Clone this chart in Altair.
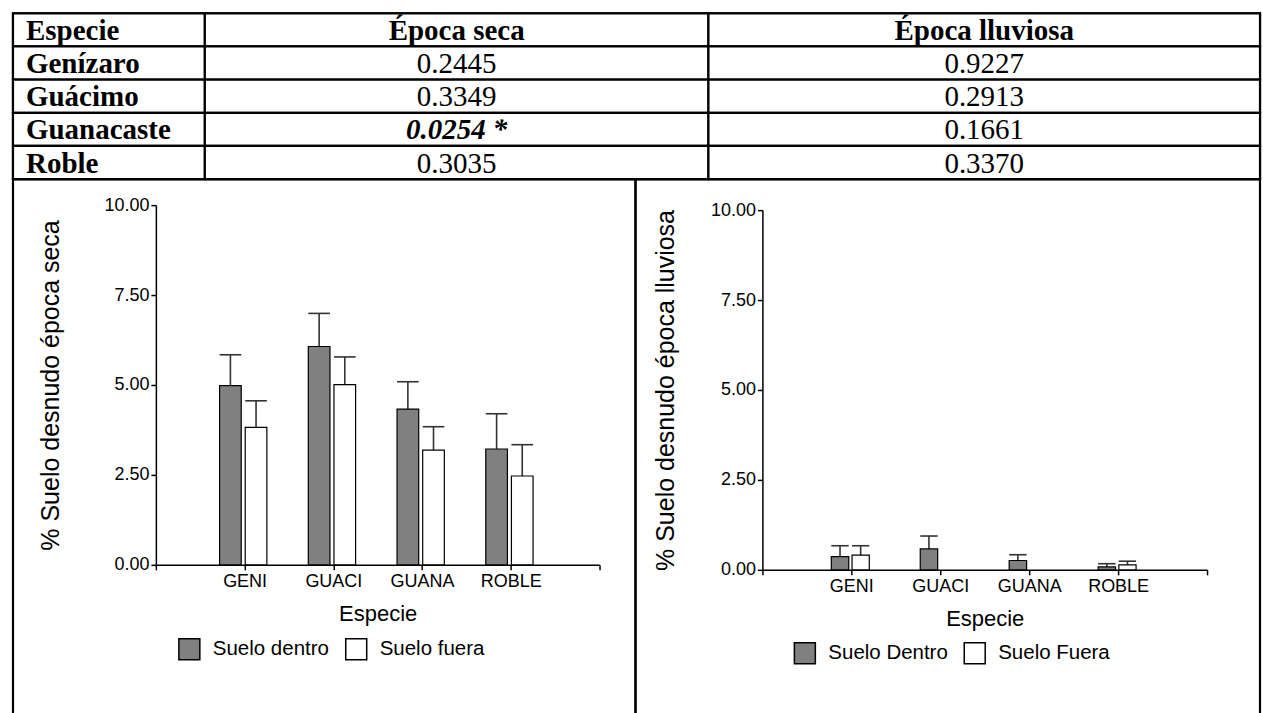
import altair as alt
import pandas as pd

# ---- table: p-values by species and season ----
HEADERS = ["Especie", "Época seca", "Época lluviosa"]
TABLE_SPECIES = ["Genízaro", "Guácimo", "Guanacaste", "Roble"]
P_SECA = ["0.2445", "0.3349", "0.0254 *", "0.3035"]
P_LLUVIOSA = ["0.9227", "0.2913", "0.1661", "0.3370"]
SIGNIFICANT = [False, False, True, False]

# ---- bar charts: mean bare soil (%) with standard error ----
SPECIES = ["GENI", "GUACI", "GUANA", "ROBLE"]
SECA_DENTRO = [4.98, 6.07, 4.33, 3.22]
SECA_DENTRO_EE = [0.86, 0.92, 0.76, 0.98]
SECA_FUERA = [3.82, 5.01, 3.19, 2.47]
SECA_FUERA_EE = [0.74, 0.77, 0.65, 0.87]
LLUV_DENTRO = [0.37, 0.58, 0.26, 0.08]
LLUV_DENTRO_EE = [0.30, 0.36, 0.16, 0.09]
LLUV_FUERA = [0.41, 0.0, 0.0, 0.14]
LLUV_FUERA_EE = [0.26, 0.0, 0.0, 0.10]

SANS = "Liberation Sans"
SERIF = "Liberation Serif"
LINE = 2.2

# ---------------- table ----------------
COL_W = [192, 504, 552]
TABLE_W = sum(COL_W)
TABLE_H = 166
N_ROWS = 1 + len(TABLE_SPECIES)
edges = [0]
for w in COL_W:
    edges.append(edges[-1] + w)

cells = pd.DataFrame(
    [{"x0": edges[c], "x1": edges[c + 1], "r0": r, "r1": r + 1}
     for r in range(N_ROWS) for c in range(3)]
)

rows = [HEADERS] + [[s, a, b] for s, a, b in zip(TABLE_SPECIES, P_SECA, P_LLUVIOSA)]
sig_flags = [False] + SIGNIFICANT
txt = []
for r, row in enumerate(rows):
    for c, t in enumerate(row):
        if c == 0:
            kind = "bold_left"
        elif r == 0:
            kind = "bold"
        elif c == 1 and sig_flags[r]:
            kind = "bolditalic"
        else:
            kind = "plain"
        xpos = edges[0] + 13 if c == 0 else (edges[c] + edges[c + 1]) / 2
        txt.append({"x": xpos, "r": r + 0.5, "t": t, "kind": kind})
txt = pd.DataFrame(txt)

tx = alt.Scale(domain=[0, TABLE_W], nice=False, zero=False)
ty = alt.Scale(domain=[0, N_ROWS], reverse=True, nice=False, zero=False)

grid = alt.Chart(cells).mark_rect(fill="white", stroke="black", strokeWidth=LINE).encode(
    x=alt.X("x0:Q", scale=tx, axis=None), x2="x1:Q",
    y=alt.Y("r0:Q", scale=ty, axis=None), y2="r1:Q",
)


def table_text(kind, align, weight, style):
    return alt.Chart(txt).transform_filter(alt.datum.kind == kind).mark_text(
        font=SERIF, fontSize=29, align=align, baseline="middle", dy=1,
        fontWeight=weight, fontStyle=style, color="black",
    ).encode(
        x=alt.X("x:Q", scale=tx, axis=None),
        y=alt.Y("r:Q", scale=ty, axis=None),
        text="t:N",
    )


table = alt.layer(
    grid,
    table_text("bold_left", "left", "bold", "normal"),
    table_text("bold", "center", "bold", "normal"),
    table_text("plain", "center", "normal", "normal"),
    table_text("bolditalic", "center", "bold", "italic"),
).properties(width=TABLE_W, height=TABLE_H)


# ---------------- bar panels ----------------
def panel(dentro, dentro_ee, fuera, fuera_ee, names, ytitle, geo):
    recs = []
    for i, sp in enumerate(SPECIES):
        c = i + 1
        for name, vals, ees, off in (
            (names[0], dentro, dentro_ee, geo["off_dentro"]),
            (names[1], fuera, fuera_ee, geo["off_fuera"]),
        ):
            x0, x1 = c + off[0], c + off[1]
            recs.append({
                "especie": sp, "grupo": name, "valor": vals[i], "ee": ees[i],
                "x0": x0, "x1": x1, "xc": (x0 + x1) / 2, "tope": vals[i] + ees[i],
            })
    df = pd.DataFrame(recs)

    label_expr = "datum.value >= 1 && datum.value <= %d ? %s[datum.value - 1] : ''" % (
        len(SPECIES), str(SPECIES))
    xs = alt.Scale(domain=[0, len(SPECIES) + 1], range=geo["xrange"], nice=False, zero=False)
    ys = alt.Scale(domain=[0, 10], range=geo["yrange"], nice=False, zero=False)
    xaxis = alt.Axis(
        values=list(range(len(SPECIES) + 2)), labelExpr=label_expr, title="Especie",
        orient="bottom", offset=geo["xoff"], grid=False, tickSize=5, labelPadding=3,
        labelFontSize=18, titleFontSize=22, titleY=49, titleBaseline="middle",
        domainColor="black", tickColor="black", domainWidth=1.5, tickWidth=1.5,
        labelFlush=False, labelOverlap=False,
    )
    yaxis = alt.Axis(
        values=[0, 2.5, 5, 7.5, 10], format=".2f", title=ytitle, orient="left",
        offset=geo["yoff"], grid=False, tickSize=5, labelPadding=2,
        labelFontSize=18, titleFontSize=25, titleX=geo["titlex"], titleBaseline="middle",
        domainColor="black", tickColor="black", domainWidth=1.5, tickWidth=1.5,
    )
    color = alt.Color(
        "grupo:N",
        scale=alt.Scale(domain=names, range=["#808080", "#ffffff"]),
        legend=alt.Legend(
            orient="none", legendX=geo["legx"], legendY=geo["legy"], direction="horizontal",
            title=None, symbolType="square", symbolSize=440, symbolStrokeColor="black",
            symbolStrokeWidth=1.5, symbolOpacity=1, labelFontSize=20.5, labelFont=SANS,
            labelColor="black", labelOffset=12, columnPadding=13, padding=0,
        ),
    )

    base = alt.Chart(df)
    bars = base.transform_filter(alt.datum.valor > 0).mark_bar(
        stroke="black", strokeWidth=1.2, opacity=1
    ).encode(
        x=alt.X("x0:Q", scale=xs, axis=xaxis), x2="x1:Q",
        y=alt.Y("valor:Q", scale=ys, axis=yaxis), y2=alt.datum(0),
        color=color,
    )
    whisker = base.transform_filter(alt.datum.ee > 0).mark_rule(
        color="#333333", strokeWidth=1.6
    ).encode(x=alt.X("xc:Q", scale=xs), y=alt.Y("valor:Q", scale=ys), y2="tope:Q")
    cap = base.transform_filter(alt.datum.ee > 0).mark_rule(
        color="#333333", strokeWidth=1.6
    ).encode(x=alt.X("x0:Q", scale=xs), x2="x1:Q", y=alt.Y("tope:Q", scale=ys))

    return alt.layer(whisker, bars, cap).properties(width=geo["w"], height=geo["h"])


PANEL_H = 545
left = panel(
    SECA_DENTRO, SECA_DENTRO_EE, SECA_FUERA, SECA_FUERA_EE,
    ["Suelo dentro", "Suelo fuera"], "% Suelo desnudo época seca",
    {"w": 623, "h": PANEL_H, "xrange": [143, 587], "yrange": [386, 26],
     "xoff": 386 - PANEL_H, "yoff": -143, "titlex": -105,
     "off_dentro": (-0.282, -0.038), "off_fuera": (0.007, 0.251),
     "legx": 165, "legy": 459},
)
right = panel(
    LLUV_DENTRO, LLUV_DENTRO_EE, LLUV_FUERA, LLUV_FUERA_EE,
    ["Suelo Dentro", "Suelo Fuera"], "% Suelo desnudo época lluviosa",
    {"w": 625, "h": PANEL_H, "xrange": [127, 572], "yrange": [391, 31],
     "xoff": 391 - PANEL_H, "yoff": -127, "titlex": -97,
     "off_dentro": (-0.225, -0.029), "off_fuera": (0.008, 0.202),
     "legx": 158, "legy": 463},
)

charts = alt.hconcat(left, right, spacing=0, bounds="flush").resolve_scale(color="independent")

chart = alt.vconcat(table, charts, spacing=0, bounds="flush").properties(
    padding={"left": 10, "top": 10, "right": 0, "bottom": 0},
    background="white",
).configure_view(
    stroke="black", strokeWidth=LINE
).configure_axis(
    labelFont=SANS, titleFont=SANS, labelColor="black", titleColor="black",
    titleFontWeight="normal",
)

chart.save("out.html", embed_options={"renderer": "svg", "actions": False})
